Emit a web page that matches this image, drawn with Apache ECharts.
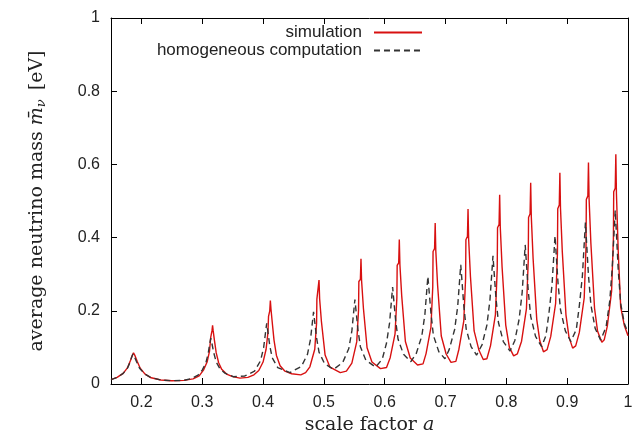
<!DOCTYPE html>
<html><head><meta charset="utf-8">
<script src="https://cdn.jsdelivr.net/npm/echarts@6/dist/echarts.min.js"></script>
<style>html,body{margin:0;padding:0;background:#fff}#c{width:643px;height:432px}</style>
</head><body><div id="c"></div>
<script>
// simulation (red solid): scale factor a, mass m
const simA = [0.150,0.160,0.170,0.177,0.182,0.185,0.187,0.189,0.193,0.198,0.206,0.216,0.232,0.250,0.270,0.285,
0.295,0.302,0.308,0.312,0.314,0.316,0.317,0.318,0.320,0.323,0.327,0.332,0.340,0.350,0.362,
0.375,0.385,0.393,0.400,0.405,0.408,0.409,0.411,0.412,0.413,0.415,0.418,0.422,0.428,0.436,0.447,0.462,
0.470,0.477,0.485,0.488,0.4885,0.491,0.492,0.493,0.496,0.502,0.510,0.527,
0.537,0.546,0.554,0.557,0.5575,0.560,0.561,0.562,0.565,0.571,0.579,0.593,
0.603,0.609,0.617,0.620,0.6205,0.623,0.624,0.625,0.628,0.634,0.642,0.654,
0.663,0.668,0.676,0.679,0.6795,0.682,0.683,0.684,0.687,0.693,0.701,0.709,
0.717,0.722,0.730,0.733,0.7335,0.736,0.737,0.738,0.741,0.747,0.755,0.762,
0.768,0.774,0.782,0.785,0.7855,0.788,0.789,0.790,0.793,0.799,0.805,0.812,
0.818,0.825,0.833,0.836,0.8365,0.839,0.840,0.841,0.844,0.850,0.855,0.861,
0.867,0.873,0.881,0.884,0.8845,0.887,0.888,0.889,0.892,0.898,0.903,0.909,
0.914,0.920,0.928,0.931,0.9315,0.934,0.935,0.936,0.939,0.945,0.950,0.957,
0.961,0.966,0.973,0.976,0.9765,0.979,0.980,0.981,0.984,0.988,0.994,1.000];
const simM = [0.012,0.018,0.029,0.044,0.064,0.078,0.085,0.079,0.062,0.043,0.027,0.017,0.011,0.009,0.010,0.014,
0.022,0.038,0.060,0.090,0.128,0.145,0.160,0.145,0.120,0.085,0.058,0.040,0.027,0.020,0.016,
0.018,0.025,0.037,0.060,0.095,0.140,0.185,0.200,0.228,0.205,0.170,0.120,0.078,0.050,0.035,0.028,0.025,
0.031,0.047,0.095,0.167,0.232,0.237,0.284,0.233,0.170,0.079,0.046,0.031,
0.035,0.057,0.115,0.202,0.280,0.286,0.342,0.282,0.207,0.099,0.060,0.042,
0.045,0.072,0.137,0.236,0.324,0.331,0.395,0.326,0.240,0.116,0.071,0.052,
0.055,0.083,0.155,0.265,0.362,0.370,0.440,0.364,0.269,0.131,0.082,0.059,
0.062,0.095,0.172,0.289,0.394,0.403,0.478,0.396,0.293,0.145,0.092,0.067,
0.069,0.105,0.189,0.315,0.427,0.436,0.517,0.429,0.319,0.161,0.100,0.077,
0.082,0.117,0.205,0.337,0.455,0.465,0.550,0.458,0.342,0.176,0.118,0.088,
0.094,0.130,0.220,0.357,0.479,0.489,0.577,0.481,0.361,0.189,0.128,0.098,
0.104,0.141,0.235,0.377,0.504,0.514,0.605,0.507,0.384,0.207,0.144,0.114,
0.121,0.158,0.253,0.397,0.525,0.535,0.628,0.520,0.360,0.210,0.160,0.132];

// homogeneous computation (dashed)
const homA = [0.150,0.160,0.170,0.177,0.182,0.184,0.186,0.188,0.192,0.197,0.205,0.215,0.232,0.250,0.270,0.283,
0.293,0.300,0.306,0.310,0.312,0.314,0.316,0.319,0.323,0.329,0.337,0.351,
0.370,0.386,0.396,0.401,0.404,0.406,0.408,0.411,0.415,0.424,0.444,
0.463,0.473,0.478,0.481,0.483,0.485,0.488,0.492,0.501,0.516,
0.531,0.541,0.546,0.549,0.551,0.553,0.556,0.560,0.569,0.585,
0.596,0.603,0.608,0.611,0.613,0.615,0.618,0.622,0.631,0.643,
0.652,0.661,0.666,0.669,0.671,0.673,0.676,0.680,0.689,0.699,
0.706,0.715,0.720,0.723,0.725,0.727,0.730,0.734,0.742,0.751,
0.760,0.768,0.773,0.776,0.778,0.780,0.783,0.787,0.795,0.806,
0.814,0.821,0.826,0.829,0.831,0.833,0.836,0.840,0.848,0.858,
0.865,0.870,0.875,0.878,0.880,0.882,0.885,0.889,0.897,0.906,
0.915,0.920,0.925,0.928,0.930,0.932,0.935,0.939,0.946,0.955,
0.964,0.970,0.974,0.977,0.979,0.981,0.984,0.988,0.994,1.000];
const homM = [0.012,0.018,0.029,0.043,0.062,0.074,0.082,0.076,0.061,0.043,0.028,0.018,0.011,0.009,0.010,0.015,
0.024,0.038,0.058,0.085,0.108,0.125,0.110,0.085,0.060,0.042,0.030,0.020,
0.022,0.035,0.064,0.100,0.140,0.166,0.142,0.105,0.072,0.045,0.031,
0.048,0.081,0.122,0.167,0.197,0.169,0.126,0.087,0.056,0.040,
0.059,0.097,0.145,0.197,0.231,0.198,0.148,0.102,0.065,0.046,
0.068,0.112,0.167,0.226,0.265,0.228,0.173,0.122,0.081,0.061,
0.084,0.131,0.189,0.252,0.294,0.254,0.195,0.133,0.088,0.069,
0.094,0.149,0.212,0.280,0.326,0.282,0.215,0.150,0.102,0.079,
0.107,0.161,0.229,0.301,0.350,0.303,0.233,0.168,0.116,0.090,
0.119,0.177,0.250,0.328,0.380,0.330,0.255,0.185,0.130,0.102,
0.132,0.193,0.269,0.350,0.405,0.353,0.275,0.203,0.145,0.116,
0.149,0.214,0.295,0.383,0.441,0.383,0.297,0.216,0.152,0.120,
0.156,0.227,0.315,0.411,0.475,0.410,0.310,0.220,0.165,0.140];

const seriesNames = ['simulation', 'homogeneous computation'];
const xTickLabels = ['0.2','0.3','0.4','0.5','0.6','0.7','0.8','0.9','1'];
const yTickLabels = ['0','0.2','0.4','0.6','0.8','1'];

const zip = (a, b) => a.map((v, i) => [v, b[i]]);
const sans = 'Liberation Sans, Arial, sans-serif';
const serif = 'DejaVu Serif, serif';

function xLabel(v) {
  const s = String(Math.round(v * 10) / 10);
  return (Math.abs(v * 10 - Math.round(v * 10)) < 1e-6 && xTickLabels.includes(s)) ? s : '';
}
function yLabel(v) {
  const s = String(Math.round(v * 10) / 10);
  return yTickLabels.includes(s) ? s : '';
}

const axisLine = { show: true, onZero: false, lineStyle: { color: '#000', width: 1 } };
const axisTick = { show: true, inside: true, length: 6, lineStyle: { color: '#000', width: 1 } };

const chart = echarts.init(document.getElementById('c'), null, { renderer: 'canvas' });
chart.setOption({
  animation: false,
  backgroundColor: '#fff',
  grid: { left: 111, right: 15, top: 18, bottom: 48, containLabel: false, outerBoundsMode: 'none' },
  legend: {
    orient: 'vertical', align: 'right', right: 220, top: 24, padding: 0,
    itemWidth: 48, itemHeight: 12, itemGap: 1,
    itemStyle: { opacity: 0 },
    textStyle: { fontFamily: sans, fontSize: 17, color: '#222', padding: [0, 7, 0, 0] },
    data: seriesNames
  },
  xAxis: [{
    type: 'value', min: 0.15, max: 1, minInterval: 0.1, maxInterval: 0.1, position: 'bottom',
    axisLine, axisTick, splitLine: { show: false },
    axisLabel: { formatter: xLabel, fontFamily: sans, fontSize: 16, color: '#222', margin: 11, showMinLabel: false },
    name: 'scale factor {i|a}', nameLocation: 'middle', nameGap: 27,
    nameTextStyle: { fontFamily: serif, fontSize: 19, color: '#222',
      rich: { i: { fontFamily: serif, fontStyle: 'italic', fontSize: 19, color: '#222' } } }
  }, {
    type: 'value', min: 0.15, max: 1, minInterval: 0.1, maxInterval: 0.1, position: 'top',
    axisLine, axisTick, splitLine: { show: false }, axisLabel: { show: false }
  }],
  yAxis: [{
    type: 'value', min: 0, max: 1, interval: 0.2, position: 'left',
    axisLine, axisTick, splitLine: { show: false },
    axisLabel: { formatter: yLabel, fontFamily: sans, fontSize: 16, color: '#222', margin: 11 },
    name: 'average neutrino mass {m|m\u0304}{s|\u03bd} [eV]', nameLocation: 'middle', nameGap: 63,
    nameTextStyle: { fontFamily: serif, fontSize: 19, color: '#222',
      rich: {
        m: { fontFamily: serif, fontStyle: 'italic', fontSize: 19, color: '#222' },
        s: { fontFamily: serif, fontStyle: 'italic', fontSize: 13, color: '#222', verticalAlign: 'bottom', padding: [8, 3, 0, 0] }
      } }
  }, {
    type: 'value', min: 0, max: 1, interval: 0.2, position: 'right',
    axisLine, axisTick, splitLine: { show: false }, axisLabel: { show: false }
  }],
  series: [{
    name: seriesNames[0], type: 'line', xAxisIndex: 0, yAxisIndex: 0,
    data: zip(simA, simM), symbol: 'none', smooth: false,
    lineStyle: { color: '#d81010', width: 1.4 }, itemStyle: { color: '#d81010' }, z: 2
  }, {
    name: seriesNames[1], type: 'line', xAxisIndex: 0, yAxisIndex: 0,
    data: zip(homA, homM), symbol: 'none', smooth: false,
    lineStyle: { color: '#333', width: 1.4, type: [6, 4] }, itemStyle: { color: '#333' }, z: 3
  }]
});
</script>
</body></html>
